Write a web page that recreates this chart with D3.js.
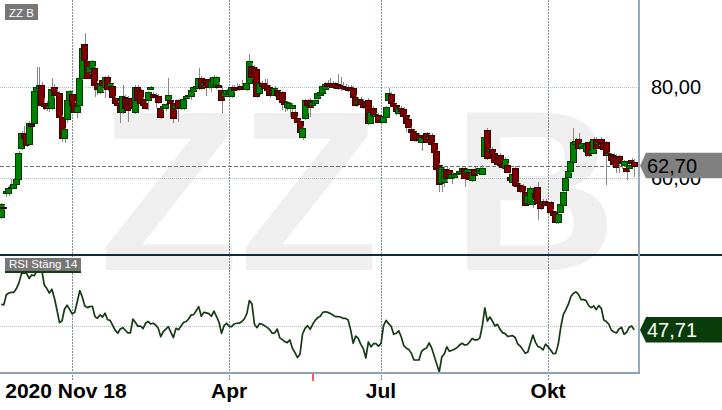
<!DOCTYPE html>
<html><head><meta charset="utf-8">
<script src="https://cdn.jsdelivr.net/npm/d3@7"></script>
<style>html,body{margin:0;padding:0;background:#fff;}svg{display:block;font-family:"Liberation Sans",Arial,sans-serif;}</style>
</head><body><svg id="c" width="722" height="410"></svg>
<script>
// ---- data (trading-day index 0 = 2020-11-18) ----
const opens=[51.4,53.7,56.6,56.6,58.1,57.9,58.7,59.8,66.6,69.9,
69.4,67.5,71.8,72.1,79.1,79.8,80.4,76.5,76.4,75.4,
75.4,80.0,78.9,78.7,73.4,68.8,73.0,77.1,78.5,76.5,
74.5,76.0,82.0,89.5,85.7,83.3,84.2,84.2,80.9,78.9,
81.5,80.0,82.2,80.2,80.2,77.5,76.5,76.0,74.5,77.8,
77.6,77.0,77.5,74.5,80.0,79.3,77.4,76.5,77.1,79.6,
78.5,78.3,78.0,75.4,75.4,75.4,77.1,77.1,76.5,75.4,
77.1,75.6,75.4,77.6,78.0,78.0,79.1,79.8,79.8,82.0,
80.4,81.5,81.7,80.0,80.4,80.0,80.4,79.3,78.0,78.5,
78.6,78.0,80.0,80.0,79.8,80.2,80.2,79.6,80.9,84.6,
84.4,84.0,78.7,80.9,80.9,80.4,80.0,79.5,78.2,79.3,
78.9,78.9,76.9,75.6,75.4,75.4,74.5,73.2,72.5,69.0,
73.2,77.1,77.1,76.0,76.5,77.6,78.2,78.7,79.6,80.9,
80.9,80.9,80.8,80.7,80.4,80.2,80.0,80.0,80.0,79.8,
77.8,76.3,77.4,77.0,76.5,77.1,72.1,75.4,73.6,73.8,
72.6,72.3,73.4,77.1,78.5,76.5,76.0,74.3,75.4,75.2,
73.8,73.0,70.8,70.3,69.9,69.5,67.9,69.2,69.9,68.6,
69.5,67.7,65.9,62.9,58.9,59.1,62.0,61.8,60.0,60.2,
60.9,61.0,61.8,62.2,61.1,61.3,59.6,62.0,61.0,61.8,
60.9,64.8,70.5,66.0,66.4,65.5,64.4,65.0,63.4,62.2,
62.9,60.2,59.1,62.2,58.8,58.5,58.3,56.9,54.6,54.3,
54.3,56.8,58.0,54.7,54.6,55.0,54.6,54.7,52.8,52.5,
50.3,52.5,54.1,57.4,60.2,61.5,63.5,67.4,68.6,66.8,
66.6,65.9,67.9,65.4,65.5,68.6,67.4,68.6,67.6,67.9,
65.0,65.2,65.0,64.8,64.8,63.4,62.9,62.2,62.2,64.0,
63.5];
const highs=[54.6,54.0,57.6,58.5,59.8,60.0,60.2,65.9,70.3,71.4,
70.4,72.6,72.4,79.4,84.3,84.3,81.0,77.6,77.0,76.5,
82.0,80.6,79.5,79.2,73.8,71.0,77.4,79.3,78.9,77.0,
76.2,82.2,88.9,91.9,86.0,84.8,86.0,84.6,81.3,81.2,
82.0,82.4,82.6,81.0,80.6,78.0,77.0,76.4,80.5,78.2,
78.0,77.6,78.0,80.4,80.4,79.6,77.8,77.0,79.2,80.2,
79.0,78.6,78.4,75.8,76.0,76.4,82.0,77.4,76.8,76.2,
77.4,76.0,77.6,78.2,78.5,79.6,80.2,80.4,84.2,82.4,
81.2,81.8,82.0,81.6,82.6,82.5,81.0,80.3,79.2,79.6,
79.6,80.4,80.5,80.8,80.6,81.5,80.6,81.2,87.3,85.2,
84.8,84.4,81.2,81.4,81.8,81.8,80.4,79.8,80.2,79.6,
79.2,79.2,77.2,77.0,76.8,76.4,75.0,73.6,72.8,71.4,
77.4,77.4,77.6,77.2,77.4,79.0,79.2,80.6,81.0,81.6,
82.0,81.4,81.2,82.9,82.2,81.0,80.6,80.4,80.4,80.2,
78.2,77.8,77.8,77.4,76.8,77.6,74.8,75.8,74.2,74.2,
73.2,73.8,75.8,79.8,78.8,76.8,76.3,75.6,75.8,75.5,
74.1,73.3,71.2,70.6,70.2,69.8,69.2,69.6,70.2,69.6,
69.8,68.0,66.2,63.2,62.6,62.4,62.4,62.1,61.2,61.2,
61.4,61.8,62.5,62.5,62.3,61.6,61.6,62.4,62.0,62.4,
62.8,69.4,71.0,66.6,66.8,65.8,64.8,65.4,63.8,64.6,
63.2,60.6,61.2,62.6,59.2,58.8,58.6,57.2,56.6,58.2,
55.2,57.4,59.1,55.0,55.4,55.4,55.0,55.0,53.2,52.8,
52.4,54.6,57.2,60.3,62.0,64.0,71.0,68.8,70.0,68.0,
67.4,67.8,68.2,66.6,69.0,69.0,68.2,69.0,67.9,68.2,
65.8,65.6,65.4,65.2,65.1,64.0,64.0,62.6,63.2,64.4,
64.2];
const lows=[51.0,53.0,55.9,56.0,57.6,57.6,58.4,59.6,66.2,68.4,
66.8,67.0,71.2,71.8,78.8,79.0,75.6,74.9,74.8,74.6,
75.0,77.6,77.8,73.2,67.9,67.8,72.0,76.6,75.6,74.2,
73.2,75.6,81.6,85.6,81.8,82.8,83.8,77.8,78.3,78.5,
79.0,77.6,79.2,79.8,77.4,76.2,75.6,72.1,74.0,75.0,
72.4,75.6,75.0,74.0,76.8,76.2,75.6,75.0,75.0,79.3,
77.4,75.4,76.2,73.0,75.0,74.8,76.8,76.2,72.1,75.0,
72.4,75.0,75.0,77.2,77.6,77.2,78.6,79.4,79.4,79.4,
80.0,78.0,79.6,79.0,80.0,79.6,79.8,74.3,77.6,78.0,
78.2,77.6,79.0,79.2,79.2,79.4,79.4,79.2,80.6,81.8,
82.4,77.6,78.2,79.8,79.4,78.8,77.6,78.2,77.8,77.8,
77.0,74.9,74.6,74.8,73.4,73.4,72.6,71.8,69.8,68.4,
72.8,74.3,73.4,75.6,76.2,77.2,77.8,78.4,79.2,79.8,
79.8,79.6,79.6,79.4,79.2,79.4,79.2,79.0,79.0,77.4,
75.6,75.8,75.8,75.2,75.4,71.6,71.8,73.4,73.2,72.0,
72.0,72.0,73.0,76.8,76.2,75.4,73.8,73.8,74.4,73.2,
70.1,70.0,69.8,68.0,68.0,68.2,65.9,68.4,67.6,68.2,
67.2,65.4,61.8,56.9,56.9,58.0,59.2,59.8,58.6,59.8,
60.4,60.6,61.4,58.0,60.8,59.4,59.2,60.4,60.6,61.4,
60.6,64.4,64.0,65.6,64.4,63.2,62.6,62.6,62.0,61.8,
61.0,59.4,58.0,58.2,57.8,56.8,56.8,53.8,54.2,54.0,
53.4,55.4,50.8,53.0,54.2,53.8,53.6,52.2,51.4,49.9,
49.9,52.2,53.8,57.0,59.8,61.2,63.2,66.8,66.2,66.4,
65.6,64.6,64.6,65.0,65.2,66.2,67.0,67.4,66.0,58.4,
64.6,63.6,62.6,61.1,61.2,62.0,62.4,59.6,61.6,62.6,
60.3];
const closes=[54.3,53.3,57.2,57.8,57.8,58.7,59.8,65.5,69.9,68.8,
67.2,72.1,71.5,79.1,80.0,80.4,76.0,75.8,75.4,76.0,
79.6,78.2,78.3,73.4,68.8,70.8,77.1,79.1,76.0,74.5,
75.8,82.0,88.6,85.9,82.0,84.6,85.7,80.4,79.6,80.9,
80.5,82.2,79.6,80.8,77.8,76.5,76.0,74.5,78.0,75.4,
75.0,76.0,75.4,80.0,77.1,76.5,76.0,75.4,78.9,80.0,
77.8,77.8,76.7,73.4,75.8,76.2,78.2,76.5,73.2,76.0,
75.4,75.8,77.4,78.0,78.2,79.3,80.0,80.2,82.0,79.8,
80.9,80.4,80.0,81.3,82.2,82.2,80.0,77.1,78.9,79.3,
79.2,80.0,79.3,79.6,79.6,79.6,79.8,80.9,85.7,82.2,
82.9,78.0,80.9,80.2,79.8,79.3,78.2,78.6,79.8,78.2,
77.4,76.7,76.3,76.7,76.5,76.0,73.2,72.3,70.1,71.0,
77.1,76.0,75.6,76.8,77.1,78.7,78.9,80.2,80.7,80.2,
80.2,80.0,79.9,79.8,79.8,79.8,79.6,79.4,79.3,77.8,
76.0,77.4,76.3,75.6,75.8,72.1,74.5,73.8,74.0,72.3,
72.8,73.6,75.6,78.7,76.5,75.8,74.7,75.4,74.8,73.6,
72.1,71.2,70.1,68.4,68.4,68.6,69.0,68.8,67.9,69.3,
67.5,65.7,62.0,58.7,62.4,62.0,60.0,60.2,60.9,60.9,
61.2,61.5,62.2,60.0,62.0,59.8,61.3,60.7,61.6,62.2,
62.2,69.0,64.4,66.4,64.8,63.5,63.0,62.9,62.4,64.2,
61.3,59.6,60.9,58.5,58.2,57.1,57.2,54.1,56.2,57.8,
55.0,55.8,54.5,53.4,55.0,54.0,54.0,52.5,51.8,50.3,
52.1,54.3,56.9,60.0,61.6,63.7,67.9,68.2,66.6,67.6,
67.0,67.5,65.0,66.2,68.6,66.6,67.9,67.7,66.4,65.0,
65.4,64.0,63.1,62.4,63.7,63.6,63.7,61.5,62.9,63.3,
62.7];
const rsi=[62.8,62.4,68.4,69.4,69.8,69.8,72.0,75.5,80.8,81.2,
81.0,78.0,80.0,79.6,82.0,81.6,82.7,74.1,72.0,69.4,
71.6,66.3,59.4,52.0,53.1,60.0,62.2,59.8,57.1,58.0,
64.1,70.8,67.1,61.8,60.8,61.4,61.6,55.5,54.5,56.5,
55.3,57.5,53.7,53.3,50.4,47.5,45.7,48.2,49.0,47.5,
45.9,45.9,54.1,52.0,49.8,50.0,48.4,51.6,52.7,51.2,
51.6,50.6,48.6,43.7,46.7,48.2,49.6,46.3,43.2,48.6,
47.8,50.0,52.0,52.6,54.1,56.5,56.7,59.0,61.4,55.7,
58.0,57.7,57.3,55.7,58.8,55.7,52.2,45.7,50.2,51.6,
49.8,49.6,51.2,51.6,51.6,52.6,54.1,57.3,64.9,63.1,
51.0,49.0,51.4,51.0,50.2,49.2,47.9,45.7,45.9,48.2,
43.0,42.0,40.8,40.2,41.8,36.9,34.3,31.4,33.4,45.3,
48.6,50.2,48.0,51.0,53.3,54.9,55.7,58.0,58.4,58.0,
57.3,56.5,55.5,55.5,55.3,54.5,54.5,53.5,47.7,39.8,
44.1,42.7,39.2,36.7,31.2,40.6,37.7,39.6,39.6,38.1,
39.8,50.2,53.3,51.4,49.8,45.1,45.7,47.1,43.5,38.4,
36.9,36.1,33.9,30.0,30.0,30.0,35.1,36.3,37.1,40.0,
37.1,32.4,27.7,23.0,31.8,33.5,37.7,35.1,35.7,36.3,
37.3,38.8,39.8,38.8,39.0,40.6,42.7,41.8,41.8,42.9,
50.0,60.6,52.9,55.3,52.9,50.0,51.0,48.0,46.1,45.5,
43.9,44.1,44.3,43.2,39.4,38.2,36.1,33.9,34.7,39.8,
44.7,40.4,37.9,37.3,35.9,39.4,37.7,35.9,33.7,33.9,
39.2,49.4,56.7,59.6,62.8,67.3,69.2,70.0,68.6,65.5,
65.5,64.9,62.0,60.8,61.8,59.6,62.0,60.4,53.5,52.6,
51.0,47.5,46.5,45.9,48.2,49.2,45.1,46.3,49.2,50.0,
47.71];
const monthTickIdx=[28,90,150,216];
const monthTickLabels=["","Apr","Jul","Okt"];
const startLabel="2020 Nov 18";
const priceTicks=[60,80];
const rsiTicks=[50];
const eventIdx=[123];
const instrument="ZZ B";
const rsiTitle="RSI Stäng 14";

// ---- layout ----
const plotR=638, mainBottom=254, rsiBottom=373;
const svg=d3.select("#c");
const loc=d3.formatLocale({decimal:",",thousands:" ",grouping:[3],currency:["","kr"]});
const f2=loc.format(".2f");
const x=d3.scaleLinear().domain([-0.5,closes.length+0.5]).range([0,plotR]);
const yP=d3.scaleLinear().domain([60,80]).range([178,87]);
const yR=d3.scaleLinear().domain([22.35,91.75]).range([373,255]);
const px=v=>Math.round(v)+0.5;

const defs=svg.append("defs");
defs.append("clipPath").attr("id","cm").append("rect").attr("x",0).attr("y",0).attr("width",plotR).attr("height",mainBottom);
defs.append("clipPath").attr("id","cr").append("rect").attr("x",0).attr("y",256).attr("width",plotR).attr("height",rsiBottom-256);

// watermark
const wm=svg.append("g").attr("fill","#efefef").attr("font-weight","bold").attr("font-size",229);
wm.append("text").attr("x",99).attr("y",270).text(instrument.split(" ")[0]);
wm.append("text").attr("x",452).attr("y",270).text(instrument.split(" ")[1]);

// horizontal grid
svg.append("g").selectAll("line").data(priceTicks).join("line")
  .attr("x1",0).attr("x2",plotR).attr("y1",d=>px(yP(d))).attr("y2",d=>px(yP(d)))
  .attr("stroke","#b4bec8").attr("stroke-dasharray","1,1");
svg.append("g").selectAll("line").data(rsiTicks).join("line")
  .attr("x1",0).attr("x2",plotR).attr("y1",d=>px(yR(d))).attr("y2",d=>px(yR(d)))
  .attr("stroke","#b4bec8").attr("stroke-dasharray","1,1");
// vertical grid
svg.append("g").selectAll("line").data(monthTickIdx).join("line")
  .attr("x1",d=>px(x(d))).attr("x2",d=>px(x(d))).attr("y1",0).attr("y2",380)
  .attr("stroke","#7b8c9c").attr("stroke-dasharray","2,1");
// last price dashed
const lastP=closes[closes.length-1];
svg.append("line").attr("x1",0).attr("x2",plotR).attr("y1",px(yP(lastP))).attr("y2",px(yP(lastP)))
  .attr("stroke","#6e6e6e").attr("stroke-dasharray","4,2");

// candles
const cg=svg.append("g").attr("clip-path","url(#cm)");
closes.forEach((c,i)=>{
  const o=opens[i],h=Math.max(highs[i],o,c),l=Math.min(lows[i],o,c);
  const cx=x(i), up=c>=o;
  const g=cg.append("g");
  g.append("line").attr("x1",px(cx)).attr("x2",px(cx)).attr("y1",Math.round(yP(h))).attr("y2",Math.round(yP(l)))
    .attr("stroke","#888");
  const yt=Math.round(yP(Math.max(o,c))), yb=Math.round(yP(Math.min(o,c)));
  g.append("rect").attr("x",Math.round(cx-3.5)+0.5).attr("y",yt+0.5).attr("width",6).attr("height",Math.max(1,yb-yt))
    .attr("fill",up?"#008000":"#800000").attr("stroke",up?"#003d00":"#3a0000");
});

// RSI line
svg.append("path").attr("clip-path","url(#cr)").datum(rsi)
  .attr("d",d3.line().x((d,i)=>x(i)).y(d=>yR(d)))
  .attr("fill","none").attr("stroke","#143a14").attr("stroke-width",1.7).attr("stroke-linejoin","round");

// separator & borders
svg.append("line").attr("x1",0).attr("x2",722).attr("y1",255).attr("y2",255).attr("stroke","#0e2b3d").attr("stroke-width",2);
svg.append("line").attr("x1",639).attr("x2",639).attr("y1",0).attr("y2",374).attr("stroke","#98a9bc").attr("stroke-width",2);
svg.append("line").attr("x1",0).attr("x2",640).attr("y1",373).attr("y2",373).attr("stroke","#8fa1b5").attr("stroke-width",2);
svg.append("g").selectAll("line").data(eventIdx).join("line")
  .attr("x1",d=>Math.round(x(d))).attr("x2",d=>Math.round(x(d))).attr("y1",374).attr("y2",381)
  .attr("stroke","#ff5b5b").attr("stroke-width",2);

// x labels
const xl=svg.append("g").attr("font-size",21).attr("font-weight","bold").attr("fill","#000");
xl.append("text").attr("x",x(0)+4).attr("y",398).text(startLabel);
xl.selectAll("text.m").data(monthTickIdx.map((d,i)=>({d,t:monthTickLabels[i]})).filter(e=>e.t)).join("text")
  .attr("class","m").attr("x",e=>x(e.d)).attr("y",398).attr("text-anchor","middle").text(e=>e.t);

// right axis labels
const rl=svg.append("g").attr("font-size",20).attr("fill","#000");
rl.selectAll("text.p").data(priceTicks).join("text").attr("class","p").attr("x",651).attr("y",d=>yP(d)+7).text(d=>f2(d));
rl.selectAll("text.r").data(rsiTicks).join("text").attr("class","r").attr("x",651).attr("y",d=>yR(d)+7).text(d=>f2(d));

// value tags
function tag(yc,fill,txtFill,label){
  const g=svg.append("g");
  g.append("path").attr("d",`M640,${yc} L646,${yc-13} L722,${yc-13} L722,${yc+12.5} L646,${yc+12.5} Z`).attr("fill",fill);
  g.append("text").attr("x",647).attr("y",yc+7).attr("font-size",20).attr("fill",txtFill).text(label);
}
tag(yP(lastP),"#808080","#000",f2(lastP));
tag(yR(rsi[rsi.length-1]),"#0a3b0a","#fff",f2(rsi[rsi.length-1]));

// panel titles
function title(x0,y0,w,h,t,line){
  const g=svg.append("g");
  g.append("rect").attr("x",x0).attr("y",y0).attr("width",w).attr("height",h).attr("fill","#777");
  if(line) g.append("rect").attr("x",x0).attr("y",y0+h).attr("width",w).attr("height",2).attr("fill","#173a17");
  g.append("text").attr("x",x0+4).attr("y",y0+h-3.5).attr("font-size",11.5).attr("fill","#fff").text(t);
}
title(5,4,33,16,instrument,false);
title(5,258,76,13,rsiTitle,true);
</script></body></html>
